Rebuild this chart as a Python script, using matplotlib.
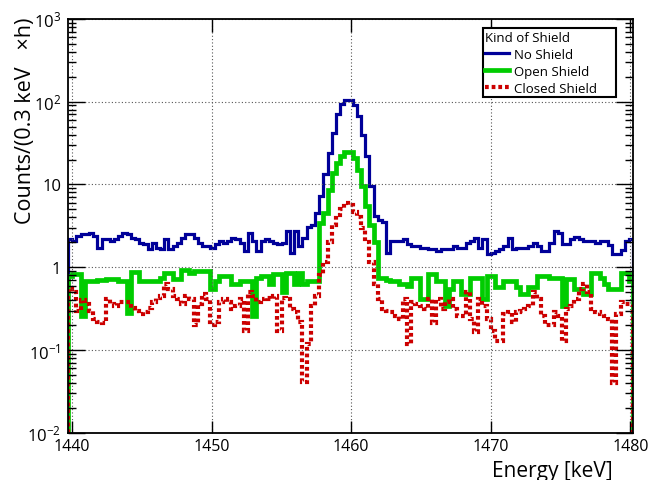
import numpy as np
import matplotlib.pyplot as plt
from matplotlib.lines import Line2D
from matplotlib.ticker import LogLocator, NullFormatter, NullLocator

plt.rcParams['font.family'] = ['Open Sans', 'DejaVu Sans']
plt.rcParams['mathtext.fontset'] = 'custom'
plt.rcParams['mathtext.rm'] = 'Open Sans'
plt.rcParams['mathtext.it'] = 'Open Sans:italic'
plt.rcParams['mathtext.bf'] = 'Open Sans:bold'

# binning (keV)
e_start = 1439.7
bin_width = 0.3

# counts / (0.3 keV x h)
no_shield = [
    2.17, 2.07, 2.38, 2.5, 2.5, 2.62, 2.38, 1.73, 2.17, 2.17,
    2.07, 2.17, 2.38, 2.62, 2.5, 2.28, 2.17, 1.98, 1.89, 1.65,
    1.98, 1.73, 1.65, 2.17, 1.65, 1.81, 1.98, 2.28, 2.5, 2.5,
    2.28, 1.98, 1.81, 1.81, 1.73, 1.89, 2.07, 1.98, 2.07, 2.28,
    2.17, 1.98, 1.57, 2.62, 2.07, 1.57, 2.07, 2.17, 2.07, 1.98,
    1.89, 1.98, 2.74, 1.5, 2.74, 1.81, 2.28, 3.1, 3.2, 4.5,
    7.2, 13.5, 24, 42, 70, 95, 104, 104, 90, 68,
    40, 22, 9.5, 4.2, 3.7, 3.5, 1.5, 2.07, 2.07, 2.1,
    2.17, 1.89, 1.81, 1.81, 1.73, 1.73, 1.65, 1.65, 1.57, 1.65,
    1.65, 1.65, 1.81, 1.73, 1.73, 1.98, 2.1, 2.28, 1.73, 2.17,
    1.43, 1.5, 1.57, 1.65, 1.81, 2.28, 1.65, 1.73, 1.73, 1.73,
    1.81, 1.98, 1.81, 1.57, 1.57, 1.98, 2.74, 2.6, 1.9, 1.9,
    2.2, 2.3, 2.2, 2.07, 2.07, 2.07, 1.95, 2.1, 2.07, 1.85,
    1.43, 1.45, 1.6, 2.07, 2.2,
]
open_shield = [
    0.79, 0.82, 0.82, 0.26, 0.68, 0.68, 0.68, 0.70, 0.70, 0.72,
    0.72, 0.72, 0.68, 0.68, 0.28, 0.87, 0.87, 0.68, 0.68, 0.68,
    0.68, 0.68, 0.75, 0.86, 0.86, 0.72, 0.72, 0.93, 0.93, 0.86,
    0.90, 0.90, 0.90, 0.90, 0.54, 0.68, 0.79, 0.79, 0.79, 0.62,
    0.62, 0.68, 0.68, 0.68, 0.26, 0.75, 0.79, 0.79, 0.62, 0.82,
    0.82, 0.50, 0.86, 0.86, 0.62, 0.86, 0.62, 0.68, 0.68, 0.68,
    3.4, 4.5, 8.5, 13.8, 18, 22, 24.5, 24.5, 21, 15,
    9.5, 5.5, 3.2, 2.0, 0.75, 0.75, 0.70, 0.68, 0.68, 0.62,
    0.62, 0.60, 0.75, 0.75, 0.41, 0.41, 0.82, 0.82, 0.68, 0.68,
    0.34, 0.55, 0.68, 0.68, 0.47, 0.47, 0.75, 0.75, 0.75, 0.41,
    0.78, 0.78, 0.57, 0.57, 0.68, 0.68, 0.68, 0.57, 0.47, 0.47,
    0.57, 0.57, 0.79, 0.79, 0.79, 0.75, 0.75, 0.75, 0.34, 0.72,
    0.72, 0.54, 0.54, 0.47, 0.47, 0.86, 0.86, 0.75, 0.62, 0.55,
    0.55, 0.55, 0.86, 0.86, 0.68,
]
closed_shield = [
    0.54, 0.50, 0.30, 0.40, 0.36, 0.30, 0.24, 0.22, 0.21, 0.41,
    0.36, 0.34, 0.38, 0.38, 0.38, 0.32, 0.30, 0.27, 0.29, 0.32,
    0.38, 0.42, 0.45, 0.62, 0.54, 0.45, 0.41, 0.36, 0.45, 0.41,
    0.20, 0.36, 0.48, 0.41, 0.20, 0.22, 0.38, 0.41, 0.38, 0.31,
    0.34, 0.41, 0.17, 0.50, 0.45, 0.38, 0.41, 0.43, 0.41, 0.45,
    0.17, 0.43, 0.41, 0.31, 0.285, 0.22, 0.041, 0.12, 0.34, 0.45,
    0.8, 1.15, 2.0, 3.2, 4.3, 5.0, 6.0, 5.6, 4.6, 4.0,
    3.0, 2.0, 1.15, 0.62, 0.41, 0.31, 0.30, 0.285, 0.26, 0.236,
    0.41, 0.12, 0.376, 0.36, 0.34, 0.31, 0.41, 0.21, 0.41, 0.31,
    0.376, 0.41, 0.31, 0.26, 0.26, 0.50, 0.236, 0.163, 0.41, 0.34,
    0.24, 0.17, 0.13, 0.13, 0.27, 0.285, 0.216, 0.285, 0.30, 0.31,
    0.34, 0.50, 0.41, 0.26, 0.20, 0.20, 0.285, 0.26, 0.13, 0.31,
    0.34, 0.41, 0.55, 0.62, 0.50, 0.31, 0.285, 0.27, 0.26, 0.236,
    0.04, 0.27, 0.38, 0.36, 0.36,
]

series_labels = ['No Shield', 'Open Shield', 'Closed Shield']
x_ticks = [1440, 1450, 1460, 1470, 1480]
y_ticks = [1e-2, 1e-1, 1, 10, 1e2, 1e3]
y_tick_labels = [r'$10^{-2}$', r'$10^{-1}$', '1', '10', r'$10^{2}$', r'$10^{3}$']

edges = e_start + bin_width * np.arange(len(no_shield) + 1)

fig = plt.figure(figsize=(6.48, 4.81), dpi=100)
ax = fig.add_axes([0.105, 0.098, 0.872, 0.8607])

blue, green, red = '#000099', '#00cc00', '#cc0000'
red_ls = (0, (0.9, 0.7))

ax.stairs(no_shield, edges, baseline=1e-2, color=blue, lw=2.3)
ax.stairs(open_shield, edges, baseline=1e-2, color=green, lw=3.4)
ax.stairs(closed_shield, edges, baseline=1e-2, color=red, lw=3.0, linestyle=red_ls)

ax.set_yscale('log')
ax.set_ylim(1e-2, 1e3)
ax.set_xlim(edges[0], edges[-1])

ax.set_xticks(x_ticks)
ax.set_xticklabels([str(t) for t in x_ticks])
ax.set_yticks(y_ticks)
ax.set_yticklabels(y_tick_labels)
ax.yaxis.set_minor_locator(LogLocator(base=10, subs=np.arange(2, 10)))
ax.yaxis.set_minor_formatter(NullFormatter())
ax.xaxis.set_minor_locator(NullLocator())

ax.tick_params(which='both', direction='in', top=True, right=True, width=1.0,
               labelsize=11.5)
ax.tick_params(axis='y', which='major', length=12, pad=5, labelsize=12)
ax.tick_params(axis='y', which='minor', length=6)
ax.tick_params(axis='x', which='major', length=9, pad=4)
for s in ax.spines.values():
    s.set_linewidth(1.3)

ax.grid(True, which='major', linestyle=(0, (1, 2)), color='#555555', lw=0.8)

ax.set_xlabel('Energy [keV]', fontsize=15, loc='right')
ax.xaxis.set_label_coords(0.9646, -0.066)
ax.set_ylabel('Counts/(0.3 keV   \u00d7h)', fontsize=15.5, loc='top')
ax.yaxis.set_label_coords(-0.057, 1.005)

handles = [
    Line2D([], [], color=blue, lw=2.3),
    Line2D([], [], color=green, lw=3.4),
    Line2D([], [], color=red, lw=3.0, linestyle=red_ls),
]
leg = ax.legend(handles, series_labels, title='Kind of Shield',
                loc='upper left', bbox_to_anchor=(0.734, 0.7775, 0.235, 0.2),
                mode='expand', borderaxespad=0, fontsize=9.5, title_fontsize=9.5,
                fancybox=False, edgecolor='black', framealpha=1,
                handlelength=1.8, handletextpad=0.35, borderpad=0.2,
                labelspacing=0.3, alignment='left')
leg.get_frame().set_linewidth(1.5)

fig.savefig('out.png', dpi=100)
